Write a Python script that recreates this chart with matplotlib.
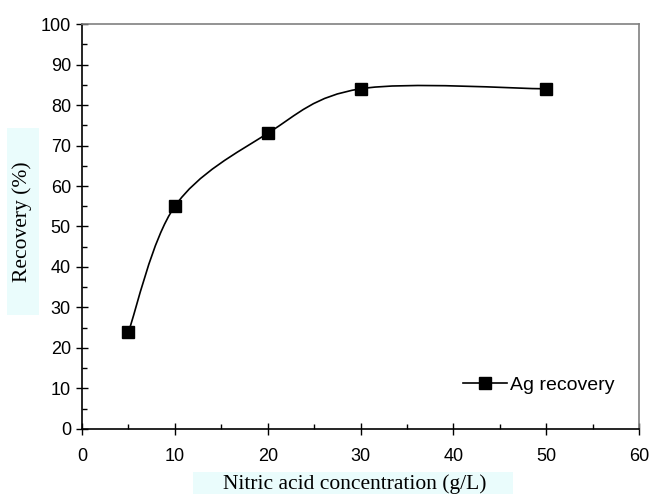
import numpy as np
import matplotlib.pyplot as plt
from matplotlib.path import Path
from matplotlib.patches import PathPatch, Rectangle
from matplotlib.lines import Line2D

# данные с графика
concentration = [5, 10, 20, 30, 50]  # g/L
recovery = [24, 55, 73, 84, 84]  # %

x_ticks = [0, 10, 20, 30, 40, 50, 60]
y_ticks = [0, 10, 20, 30, 40, 50, 60, 70, 80, 90, 100]

box_color = '#eafcfc'


def smooth_path(xs, ys):
    # сглаженная линия как в Excel (кривые Безье через точки)
    pts = np.column_stack([xs, ys]).astype(float)
    n = len(pts)
    verts = [pts[0]]
    codes = [Path.MOVETO]
    for i in range(n - 1):
        p_prev = pts[i - 1] if i > 0 else pts[i]
        p_next = pts[i + 2] if i + 2 < n else pts[i + 1]
        c1 = pts[i] + (pts[i + 1] - p_prev) / 6
        c2 = pts[i + 1] - (p_next - pts[i]) / 6
        verts += [c1, c2, pts[i + 1]]
        codes += [Path.CURVE4] * 3
    return Path(verts, codes)


fig = plt.figure(figsize=(6.5, 4.94), dpi=100)
ax = fig.add_axes([0.1262, 0.1316, 0.8569, 0.8198])

ax.add_patch(PathPatch(smooth_path(concentration, recovery), fill=False,
                       edgecolor='black', linewidth=1.2, zorder=2))
ax.plot(concentration, recovery, 's', color='black', markersize=8, zorder=3)

ax.set_xlim(0, 60)
ax.set_ylim(0, 100)
ax.set_xticks(x_ticks)
ax.set_yticks(y_ticks)
ax.set_xticks(np.arange(5, 60, 10), minor=True)
ax.set_yticks(np.arange(5, 100, 10), minor=True)

ax.tick_params(which='major', direction='inout', length=8, width=1, color='black',
               labelsize=13, labelfontfamily='Liberation Sans')
ax.tick_params(which='minor', direction='in', length=3.6, width=1, color='black')
ax.tick_params(axis='x', which='major', pad=10)
ax.tick_params(axis='y', which='major', pad=4)

for side in ['left', 'bottom']:
    ax.spines[side].set_color('black')
    ax.spines[side].set_linewidth(1.2)
for side in ['top', 'right']:
    ax.spines[side].set_color('#808080')
    ax.spines[side].set_linewidth(1.2)

handle = Line2D([], [], color='black', linewidth=1.2, marker='s', markersize=8)
ax.legend([handle], ['Ag recovery'], loc='center left', bbox_to_anchor=(0.684, 0.1086),
          frameon=False, borderpad=0, borderaxespad=0, handlelength=2.26,
          handletextpad=0.15, prop={'family': 'Liberation Sans', 'size': 14})

# подписи осей с голубой подложкой
fig.patches.append(Rectangle((193 / 650, 0), 320 / 650, 22 / 494, transform=fig.transFigure,
                             facecolor=box_color, edgecolor='none', zorder=0))
fig.patches.append(Rectangle((7 / 650, (494 - 315) / 494), 32 / 650, 187 / 494,
                             transform=fig.transFigure, facecolor=box_color,
                             edgecolor='none', zorder=0))
fig.text(354.5 / 650, 5.5 / 494, 'Nitric acid concentration (g/L)', ha='center', va='baseline',
         fontsize=15.5, family='Liberation Serif')
fig.text(22.5 / 650, (494 - 222) / 494, 'Recovery (%)', rotation=90, ha='center', va='center',
         fontsize=15.5, family='Liberation Serif')

plt.savefig('out.png', dpi=100)
